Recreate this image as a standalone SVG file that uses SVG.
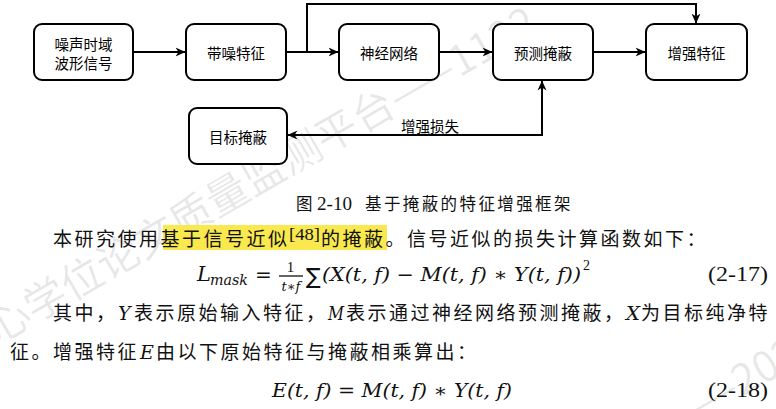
<svg xmlns="http://www.w3.org/2000/svg" width="776" height="409" viewBox="0 0 776 409">
  <style>
    .box { fill: #fff; stroke: #000; stroke-width: 2; }
    .nt { font-family: "Noto Sans CJK SC", sans-serif; font-size: 14.5px; text-anchor: middle; dominant-baseline: central; fill: #000; }
    .conn { fill: none; stroke: #000; stroke-width: 2; }
    .wm { font-family: "Noto Sans CJK SC", sans-serif; font-size: 42px; fill: #000; fill-opacity: 0.09; }
    .cn { font-family: "Noto Sans CJK SC", sans-serif; font-size: 19px; letter-spacing: 2.5px; fill: #111; }
    .cap { font-family: "Noto Sans CJK SC", sans-serif; font-size: 16.5px; letter-spacing: 2.4px; fill: #111; }
    .rm { font-family: "Liberation Serif", serif; fill: #111; }
    .mi { font-family: "DejaVu Serif", serif; font-style: italic; fill: #111; }
    .mu { font-family: "DejaVu Sans", sans-serif; fill: #111; }
  </style>
  <defs>
    <marker id="arr" viewBox="0 0 10 10" refX="9.5" refY="5" markerWidth="10" markerHeight="10" markerUnits="userSpaceOnUse" orient="auto-start-reverse">
      <path d="M0,0.5 L10,5 L0,9.5 L3,5 Z" fill="#000"/>
    </marker>
  </defs>

  <!-- faint background watermark -->
  <g id="watermark">
    <text class="wm" transform="translate(-1.5,344) rotate(-30)">心学位论文质量监测平台——1122</text>
    <text class="wm" transform="translate(681.5,432) rotate(-30)">——202</text>
  </g>

  <!-- text highlight -->
  <rect x="163" y="225" width="224" height="25" fill="#f9e94e"/>

  <!-- connectors -->
  <g id="connectors">
    <path class="conn" d="M133,52 L185,52" marker-end="url(#arr)"/>
    <path class="conn" d="M286,52 L338,52" marker-end="url(#arr)"/>
    <path class="conn" d="M307,52 L307,4 L696,4 L696,23" marker-end="url(#arr)"/>
    <path class="conn" d="M439,52 L492,52" marker-end="url(#arr)"/>
    <path class="conn" d="M593,52 L645,52" marker-end="url(#arr)"/>
    <path class="conn" d="M288,135 L542,135 L542,81" marker-start="url(#arr)" marker-end="url(#arr)"/>
    <text class="nt" x="430" y="125">增强损失</text>
  </g>

  <!-- nodes -->
  <g id="n-input">
    <rect class="box" x="34" y="24" width="99" height="56" rx="8"/>
    <text class="nt" x="83.5" y="43">噪声时域</text>
    <text class="nt" x="83.5" y="62">波形信号</text>
  </g>
  <g id="n-noisy">
    <rect class="box" x="186" y="24" width="100" height="56" rx="8"/>
    <text class="nt" x="236" y="52">带噪特征</text>
  </g>
  <g id="n-net">
    <rect class="box" x="339" y="24" width="100" height="56" rx="8"/>
    <text class="nt" x="389" y="52">神经网络</text>
  </g>
  <g id="n-pred">
    <rect class="box" x="493" y="24" width="100" height="56" rx="8"/>
    <text class="nt" x="543" y="52">预测掩蔽</text>
  </g>
  <g id="n-enh">
    <rect class="box" x="646" y="24" width="101" height="56" rx="8"/>
    <text class="nt" x="696.5" y="52">增强特征</text>
  </g>
  <g id="n-target">
    <rect class="box" x="189" y="108" width="98" height="56" rx="8"/>
    <text class="nt" x="238" y="136">目标掩蔽</text>
  </g>

  <!-- caption -->
  <text class="cap" x="296" y="210">图</text>
  <text class="rm" x="317" y="210" font-size="18" textLength="35" lengthAdjust="spacingAndGlyphs">2-10</text>
  <text class="cap" x="365" y="210">基于掩蔽的特征增强框架</text>

  <!-- paragraph line 1 -->
  <text class="cn" x="53" y="246">本研究使用基于信号近似</text>
  <text class="rm" x="289" y="240" font-size="16" textLength="31" lengthAdjust="spacingAndGlyphs">[48]</text>
  <text class="cn" x="321" y="246">的掩蔽。信号近似的损失计算函数如下：</text>

  <!-- equation 2-17 -->
  <text class="mi" x="197" y="281" font-size="21">L</text>
  <text class="mi" x="210" y="285" font-size="15" textLength="38" lengthAdjust="spacingAndGlyphs">mask</text>
  <text class="mu" x="255" y="281" font-size="20">=</text>
  <text class="rm" x="290.5" y="272" font-size="15" text-anchor="middle">1</text>
  <line x1="279" y1="276" x2="303" y2="276" stroke="#111" stroke-width="1.3"/>
  <text class="mi" x="291" y="291" font-size="13" text-anchor="middle">t∗f</text>
  <text class="mu" x="306" y="284" font-size="22">∑</text>
  <text class="mi" x="322" y="281" font-size="19" textLength="259" lengthAdjust="spacingAndGlyphs">(X(t, f) − M(t, f) ∗ Y(t, f))</text>
  <text class="rm" x="583" y="270" font-size="14">2</text>
  <text class="rm" x="708" y="281" font-size="20" textLength="60" lengthAdjust="spacingAndGlyphs">(2-17)</text>

  <!-- paragraph line 3 -->
  <text class="cn" x="53" y="320">其中，</text>
  <text class="mi" x="118" y="320" font-size="19">Y</text>
  <text class="cn" x="134" y="320">表示原始输入特征，</text>
  <text class="mi" x="328" y="320" font-size="18" textLength="16" lengthAdjust="spacingAndGlyphs">M</text>
  <text class="cn" x="346" y="320">表示通过神经网络预测掩蔽，</text>
  <text class="mi" x="626" y="320" font-size="18" textLength="14" lengthAdjust="spacingAndGlyphs">X</text>
  <text class="cn" x="641" y="320">为目标纯净特</text>

  <!-- paragraph line 4 -->
  <text class="cn" x="10" y="359">征。增强特征</text>
  <text class="mi" x="140" y="359" font-size="19">E</text>
  <text class="cn" x="156" y="359">由以下原始特征与掩蔽相乘算出：</text>

  <!-- equation 2-18 -->
  <text class="mi" x="272" y="397" font-size="19" textLength="240" lengthAdjust="spacingAndGlyphs">E(t, f) = M(t, f) ∗ Y(t, f)</text>
  <text class="rm" x="708" y="397" font-size="20" textLength="60" lengthAdjust="spacingAndGlyphs">(2-18)</text>
</svg>
